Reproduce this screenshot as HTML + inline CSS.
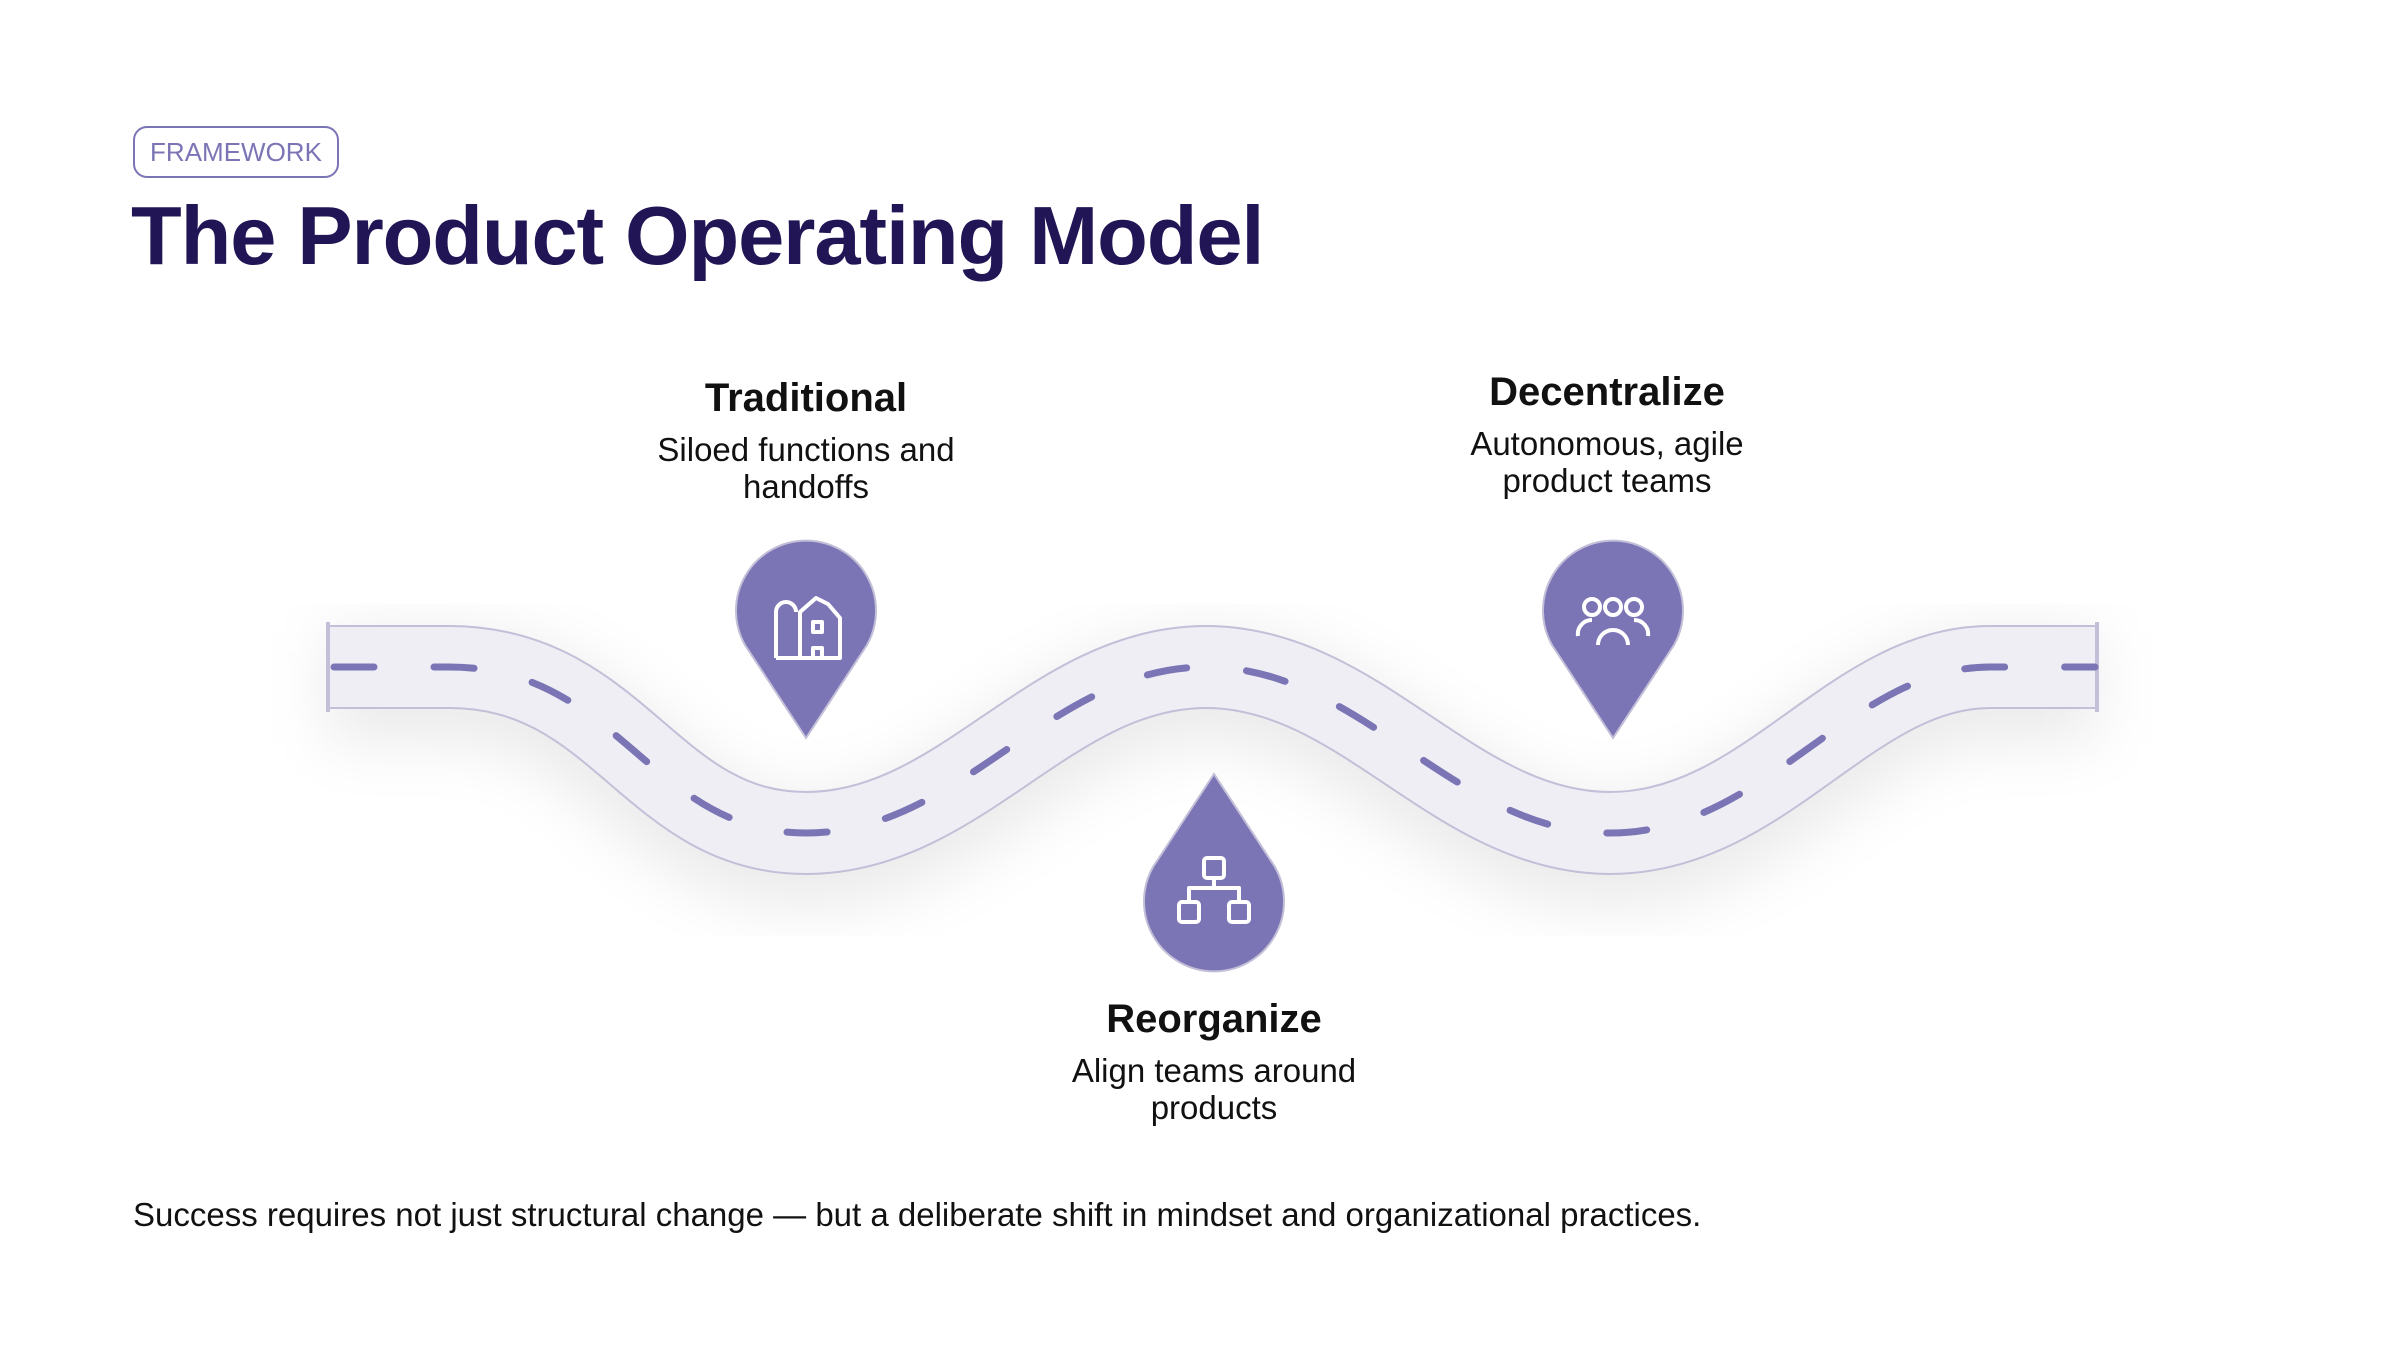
<!DOCTYPE html>
<html><head><meta charset="utf-8"><style>
html,body{margin:0;padding:0;background:#fff;}
body{width:2400px;height:1350px;position:relative;overflow:hidden;font-family:"Liberation Sans",sans-serif;}
.pill{position:absolute;left:133px;top:126px;width:206px;height:52px;border:2px solid #7b75b5;border-radius:14px;box-sizing:border-box;color:#7b75b5;font-size:26px;line-height:48px;text-align:center;}
h1{position:absolute;left:131px;top:188px;margin:0;font-size:83px;font-weight:bold;color:#221556;letter-spacing:-1.1px;white-space:nowrap;}
.lbl{position:absolute;width:600px;text-align:center;color:#111;}
.lbl b{display:block;font-size:40px;line-height:50px;}
.lbl span{display:block;font-size:33px;line-height:37px;margin-top:8px;}
.foot{position:absolute;left:133px;top:1196px;font-size:33px;color:#111;white-space:nowrap;}
</style></head><body>
<div class="pill">FRAMEWORK</div>
<h1>The Product Operating Model</h1>
<svg width="2400" height="1350" style="position:absolute;left:0;top:0">
<defs><filter id="sh" x="-20%" y="-50%" width="140%" height="200%"><feGaussianBlur stdDeviation="30"/></filter></defs>
<path d="M328,667 L449,667 C620,667 650,833 806,833 C962,833 1050,667 1206,667 C1362,667 1454,833 1610,833 C1766,833 1850,667 1990,667 L2097,667" fill="none" stroke="#000" stroke-opacity="0.08" stroke-width="110" filter="url(#sh)" transform="translate(0,20)"/>
<path d="M328,667 L449,667 C620,667 650,833 806,833 C962,833 1050,667 1206,667 C1362,667 1454,833 1610,833 C1766,833 1850,667 1990,667 L2097,667" fill="none" stroke="#c3bfd8" stroke-width="84"/>
<path d="M328,667 L449,667 C620,667 650,833 806,833 C962,833 1050,667 1206,667 C1362,667 1454,833 1610,833 C1766,833 1850,667 1990,667 L2097,667" fill="none" stroke="#eeeef4" stroke-width="80"/>
<rect x="326" y="622" width="4" height="90" fill="#c3bfd8"/><rect x="2095" y="622" width="4" height="90" fill="#c3bfd8"/>
<rect x="330" y="627" width="8" height="80" fill="#eeeef4"/><rect x="2087" y="627" width="8" height="80" fill="#eeeef4"/>
<path d="M330,667 L449,667 C620,667 650,833 806,833 C962,833 1050,667 1206,667 C1362,667 1454,833 1610,833 C1766,833 1850,667 1990,667 L2095,667" fill="none" stroke="#7b75b5" stroke-width="7" stroke-linecap="round" stroke-dasharray="40 60" stroke-dashoffset="-4"/>
<g fill="#7b75b5" stroke="#c3bfd8" stroke-width="2">
<path d="M806,738 L745,645 A70,70 0 1 1 867,645 Z"/>
<path d="M1613,738 L1552,645 A70,70 0 1 1 1674,645 Z"/>
<path d="M1214,774 L1153,867 A70,70 0 1 0 1275,867 Z"/>
</g>
<g fill="none" stroke="#fff" stroke-width="4" stroke-linejoin="round">
<path d="M776,658 V612 A10,10 0 0 1 796,612"/><path d="M776,658 H840 V618 L828,604 L816,598 L800,612 V658"/>
<rect x="813" y="622" width="9" height="10"/><path d="M813,658 V648 H822 V658"/>
<circle cx="1592" cy="607" r="8"/><circle cx="1613" cy="607" r="8"/><circle cx="1634" cy="607" r="8"/>
<path d="M1578,636 A14,14 0 0 1 1592,620 M1598,645 A15,15 0 0 1 1628,645 M1634,620 A14,14 0 0 1 1648,636"/>
<rect x="1204" y="858" width="20" height="20" rx="3"/><path d="M1214,878 V888 M1189,902 V888 H1239 V902"/>
<rect x="1179" y="902" width="20" height="20" rx="3"/><rect x="1229" y="902" width="20" height="20" rx="3"/>
</g>
</svg>
<div class="lbl" style="left:506px;top:373px"><b>Traditional</b><span>Siloed functions and<br>handoffs</span></div>
<div class="lbl" style="left:1307px;top:367px"><b>Decentralize</b><span>Autonomous, agile<br>product teams</span></div>
<div class="lbl" style="left:914px;top:994px"><b>Reorganize</b><span>Align teams around<br>products</span></div>
<div class="foot">Success requires not just structural change — but a deliberate shift in mindset and organizational practices.</div>
</body></html>
